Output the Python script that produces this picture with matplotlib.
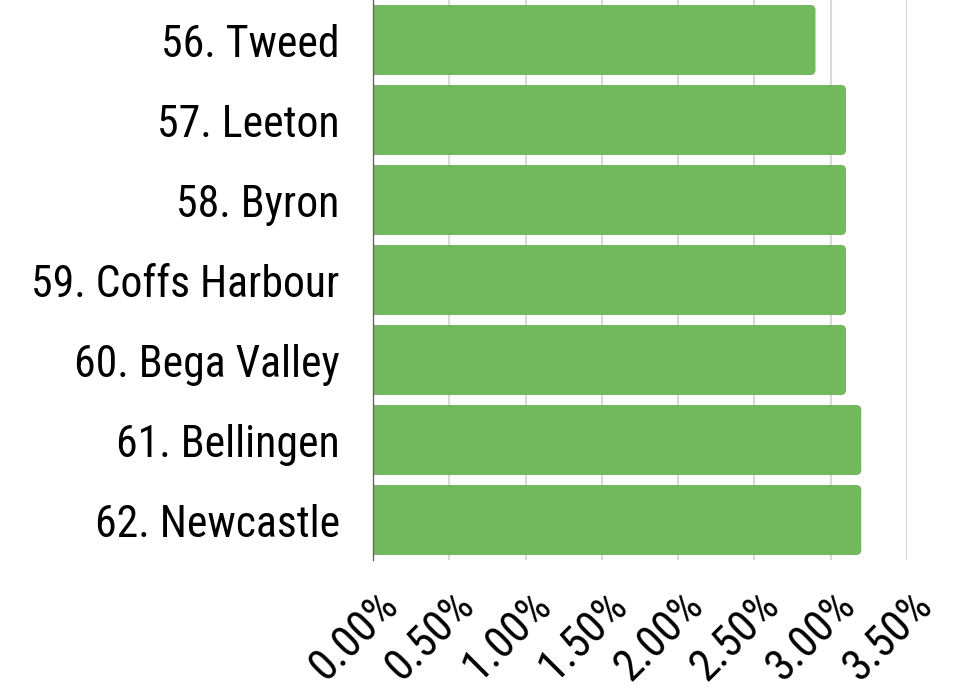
import matplotlib.pyplot as plt
from matplotlib import font_manager
from matplotlib.patches import FancyBboxPatch
from matplotlib.ticker import FuncFormatter
import matplotlib.transforms as mtransforms

# 좁은 글꼴 찾기
installed = {f.name for f in font_manager.fontManager.ttflist}
candidates = ['Roboto Condensed', 'Archivo Narrow', 'PT Sans Narrow', 'Fira Sans Condensed',
              'IBM Plex Sans Condensed', 'Encode Sans Condensed', 'Asap Condensed',
              'Liberation Sans Narrow', 'DejaVu Sans']
font_name = next(c for c in candidates if c in installed)
plt.rcParams['font.family'] = [font_name, 'DejaVu Sans']

# 데이터
labels = ['56. Tweed', '57. Leeton', '58. Byron', '59. Coffs Harbour',
          '60. Bega Valley', '61. Bellingen', '62. Newcastle']
values = [2.90, 3.10, 3.10, 3.10, 3.10, 3.20, 3.20]
xticks = [0, 0.5, 1.0, 1.5, 2.0, 2.5, 3.0, 3.5]

green = '#72b85c'

fig = plt.figure(figsize=(9.73, 6.90), dpi=100)
ax_w, ax_h = 0.5488, 0.8116
ax = fig.add_axes([0.3834, 0.1884, ax_w, ax_h])

ypos = list(range(len(labels)))
bar_h = 0.875

# 둥근 모서리 막대 (축 픽셀 비율 보정)
px_x = 3.5 / (ax_w * 973)
px_y = 7.0 / (ax_h * 690)
r = 5 * px_x
aspect = px_y / px_x
for y, v in zip(ypos, values):
    p = FancyBboxPatch((-0.05, y - bar_h / 2), v + 0.05, bar_h,
                       boxstyle=f'round,pad=0,rounding_size={r}',
                       mutation_aspect=aspect, facecolor=green,
                       edgecolor='none', zorder=2, clip_on=True)
    ax.add_patch(p)

ax.set_xlim(0, 3.5)
ax.set_ylim(len(labels) - 0.5, -0.5)
ax.set_xticks(xticks)
ax.xaxis.set_major_formatter(FuncFormatter(lambda v, _: f'{v:.2f}%'))
ax.set_yticks(ypos)
ax.set_yticklabels(labels, fontsize=31.5)

ax.grid(axis='x', color='#d9d9d9', linewidth=1.5, zorder=0)
ax.set_axisbelow(True)
for s in ['top', 'right', 'bottom']:
    ax.spines[s].set_visible(False)
ax.spines['left'].set_color('#666666')
ax.spines['left'].set_linewidth(1)
ax.spines['left'].set_zorder(3)

ax.tick_params(axis='y', length=0, pad=24)
ax.tick_params(axis='x', length=0, pad=28, labelsize=32)

offset = mtransforms.ScaledTranslation(19 / 100, 0, fig.dpi_scale_trans)
for lab in ax.get_xticklabels():
    lab.set_rotation(45)
    lab.set_rotation_mode('anchor')
    lab.set_ha('right')
    lab.set_va('center')
    lab.set_transform(lab.get_transform() + offset)

fig.savefig('out.png', dpi=100)
